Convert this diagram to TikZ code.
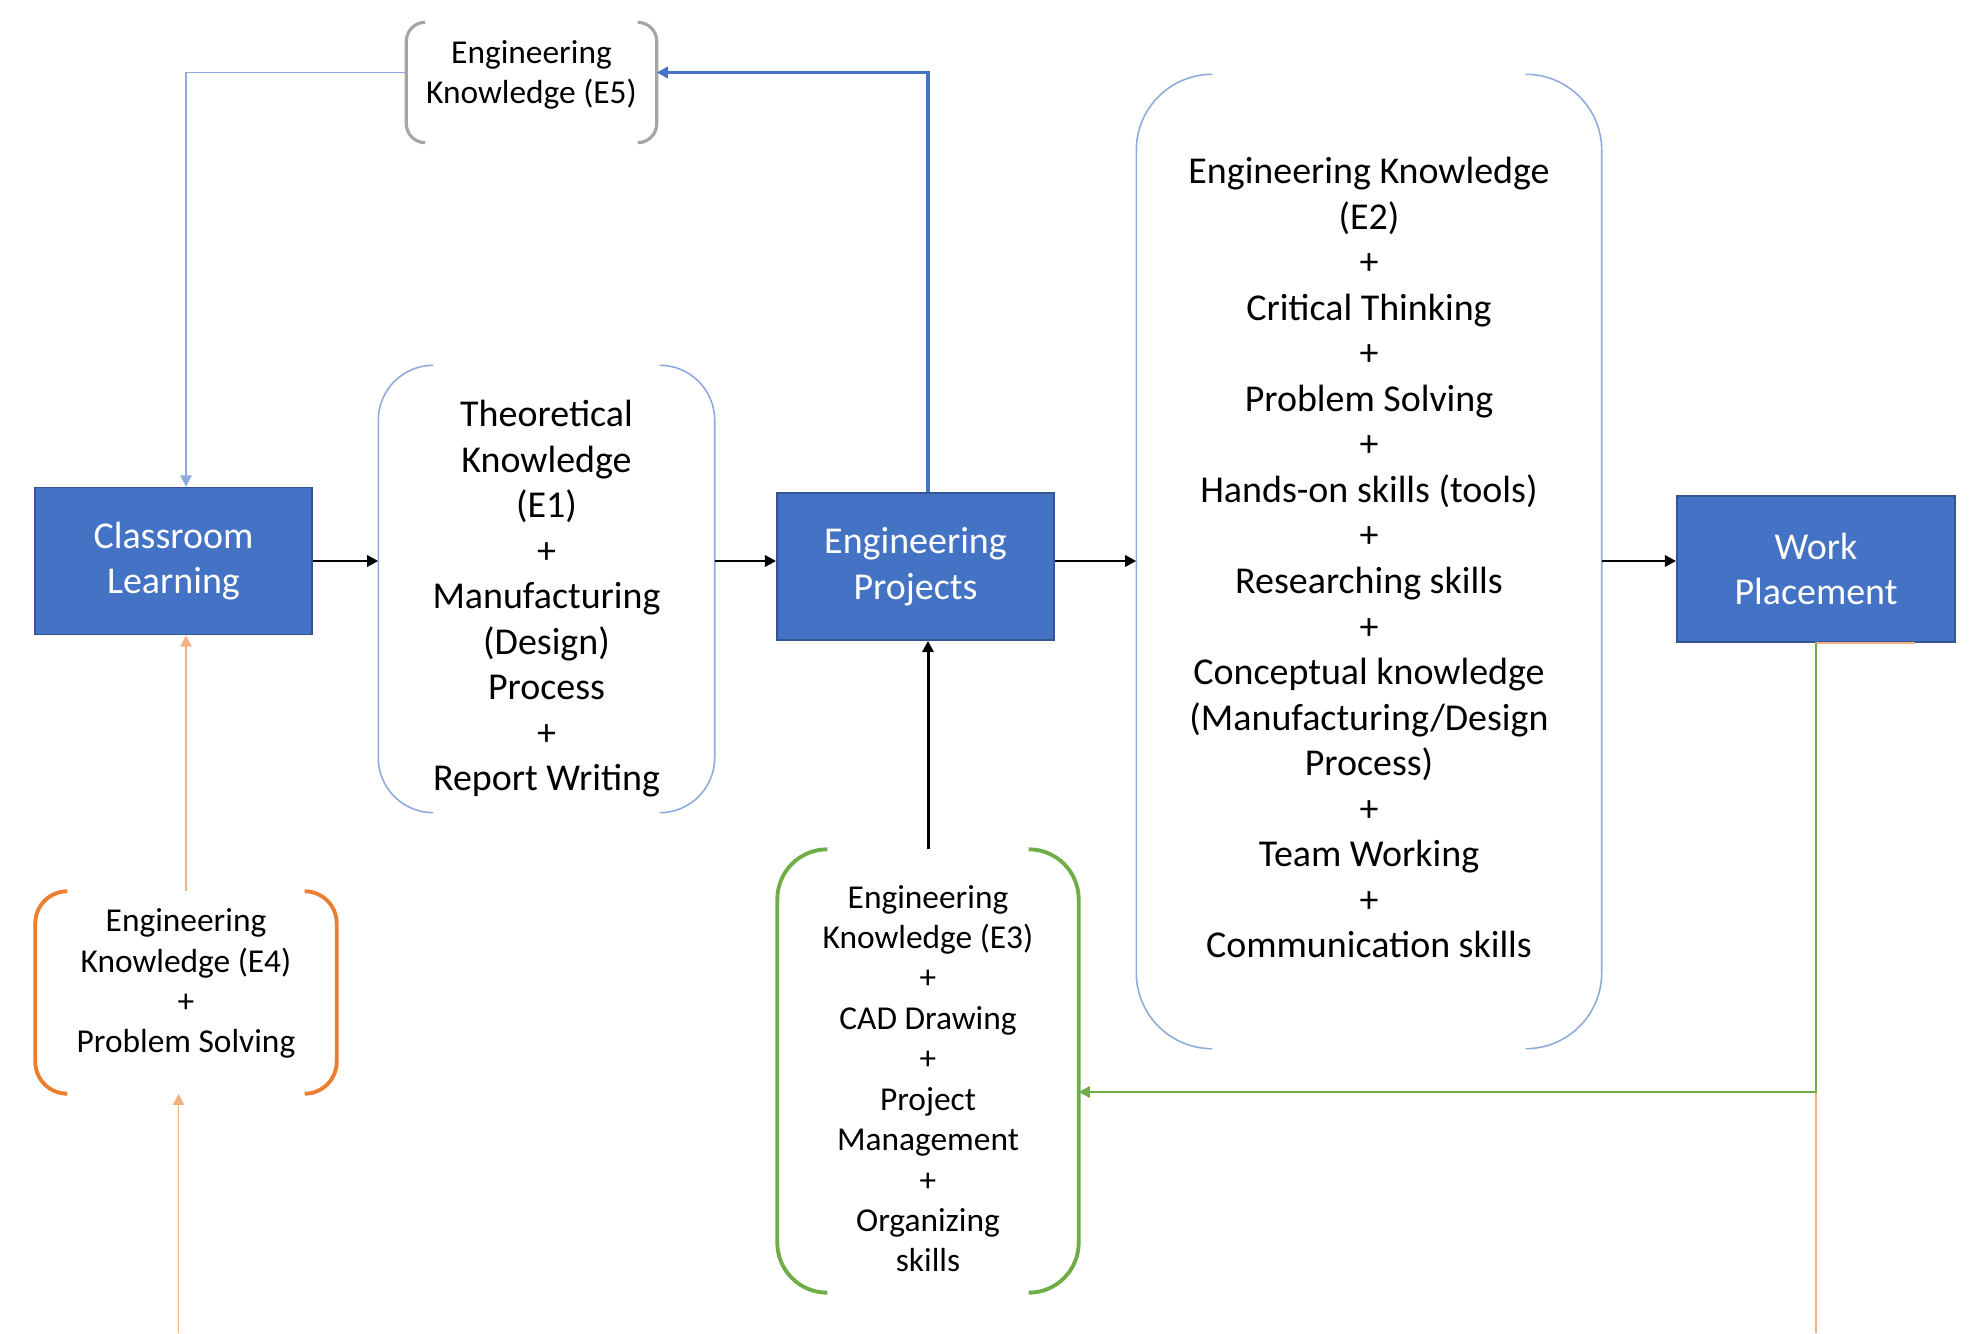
\documentclass[tikz,border=0pt]{standalone}
\usepackage{fontspec}
\setmainfont{Carlito}
\usetikzlibrary{arrows.meta,positioning}
\definecolor{boxblue}{HTML}{4472C4}
\definecolor{lineblue}{HTML}{8FAADC}
\definecolor{bracketgrey}{HTML}{A5A5A5}
\definecolor{accentorange}{HTML}{ED7D31}
\definecolor{lightorange}{HTML}{F4B183}
\definecolor{accentgreen}{HTML}{70AD47}
\newcommand{\boxfont}{\fontsize{10.8}{12.95}\selectfont}
\newcommand{\notefont}{\fontsize{9.5}{11.5}\selectfont}
% round brackets left and right of a node: node, radius, style
\newcommand{\bracketpair}[3]{%
  \draw[#3, rounded corners=#2] ([xshift=#2]#1.north west) -- (#1.north west) -- (#1.south west) -- ([xshift=#2]#1.south west);
  \draw[#3, rounded corners=#2] ([xshift=-#2]#1.north east) -- (#1.north east) -- (#1.south east) -- ([xshift=-#2]#1.south east);
}

\begin{document}
\begin{tikzpicture}[
  bluebox/.style={draw=boxblue!75!black, line width=0.5pt, fill=boxblue, text=white, minimum width=2.77cm, minimum height=1.47cm, align=center, font=\boxfont, inner sep=0pt},
  brk/.style={inner sep=0pt},
  tip/.style={-{Triangle[length=3.2pt, width=3.2pt]}},
  arr/.style={tip, line width=0.85pt},
  bluearr/.style={tip, boxblue, line width=0.9pt},
  thinbluearr/.style={tip, lineblue, line width=0.45pt},
  orangearr/.style={tip, lightorange, line width=0.45pt},
  greenarr/.style={tip, accentgreen, line width=0.75pt}
]
  \useasboundingbox (0,0) rectangle (19.83,13.33);

  % main row
  \node[bluebox] (cl) at (1.735,7.72) {Classroom\\Learning};
  \node[bluebox] (ep) at (9.155,7.665) {Engineering\\Projects};
  \node[bluebox, minimum width=2.78cm, minimum height=1.46cm] (wp) at (18.16,7.64) {Work\\Placement};

  % bracketed skill lists
  \node[brk, minimum width=2.49cm, minimum height=1.19cm,
    label={[font=\notefont, align=center, yshift=0.076cm]center:Engineering\\Knowledge (E5)}] (e5) at (5.315,12.505) {};
  \node[brk, minimum width=3.35cm, minimum height=4.46cm,
    label={[font=\boxfont, align=center, yshift=-0.1cm]center:Theoretical\\Knowledge\\(E1)\\+\\Manufacturing\\(Design)\\Process\\+\\Report Writing}] (e1) at (5.465,7.44) {};
  \node[brk, minimum width=4.64cm, minimum height=9.73cm,
    label={[font=\boxfont, align=center, yshift=0.038cm]center:Engineering Knowledge\\(E2)\\+\\Critical Thinking\\+\\Problem Solving\\+\\Hands-on skills (tools)\\+\\Researching skills\\+\\Conceptual knowledge\\(Manufacturing/Design\\Process)\\+\\Team Working\\+\\Communication skills}] (e2) at (13.69,7.715) {};
  \node[brk, minimum width=3.0cm, minimum height=2.01cm,
    label={[font=\notefont, align=center, yshift=0.089cm]center:Engineering\\Knowledge (E4)\\+\\Problem Solving}] (e4) at (1.86,3.405) {};
  \node[brk, minimum width=3.0cm, minimum height=4.42cm,
    label={[font=\notefont, align=center, yshift=-0.076cm]center:Engineering\\Knowledge (E3)\\+\\CAD Drawing\\+\\Project\\Management\\+\\Organizing\\skills}] (e3) at (9.28,2.62) {};

  \bracketpair{e5}{0.19cm}{bracketgrey, line width=0.9pt}
  \bracketpair{e1}{0.55cm}{lineblue, line width=0.45pt}
  \bracketpair{e2}{0.76cm}{lineblue, line width=0.45pt}
  \bracketpair{e4}{0.32cm}{accentorange, line width=1.1pt}
  \bracketpair{e3}{0.5cm}{accentgreen, line width=1.1pt}

  % flow along the row
  \draw[arr] (cl.east) -- (cl.east -| e1.west);
  \draw[arr] (cl.east -| e1.east) -- (cl.east -| ep.west);
  \draw[arr] (cl.east -| ep.east) -- (cl.east -| e2.west);
  \draw[arr] (cl.east -| e2.east) -- (cl.east -| wp.west);

  % feedback loops
  \draw[bluearr] (e3.north |- ep.north) |- ([yshift=0.1cm]e5.east);
  \draw[thinbluearr] ([yshift=0.1cm]e5.west) -| (e4.north |- cl.north);
  \draw[arr] (e3.north) -- (e3.north |- ep.south);
  \draw[orangearr] (e4.north) -- (e4.north |- cl.south);

  \coordinate (e4src) at (1.785,0);
  \coordinate (wpsrc) at (18.16,0);
  \draw[orangearr] (e4src) -- (e4src |- e4.south);
  \draw[lightorange, line width=0.45pt] (wpsrc) -- (wp.south) -- ([xshift=0.99cm]wp.south);
  \draw[greenarr] (wp.south) |- ([yshift=-0.21cm]e3.east);
\end{tikzpicture}
\end{document}
